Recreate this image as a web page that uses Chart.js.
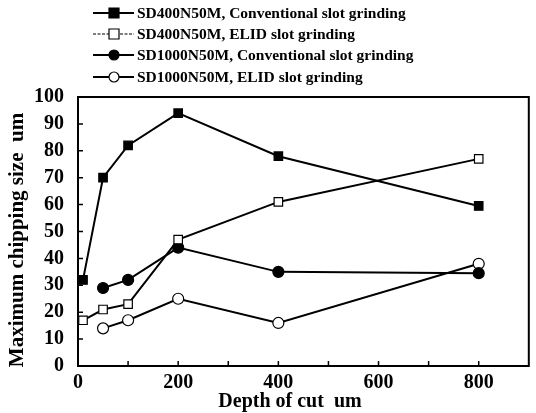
<!DOCTYPE html>
<html>
<head>
<meta charset="utf-8">
<script src="https://cdn.jsdelivr.net/npm/chart.js@4.4.1/dist/chart.umd.min.js"></script>
<style>
  html, body { margin: 0; padding: 0; background: #fff; }
  #wrap { width: 536px; height: 413px; }
</style>
</head>
<body>
<div id="wrap"><canvas id="grafico" width="536" height="413"></canvas></div>
<script>
// dados
const depth = [10, 50, 100, 200, 400, 800];
const sd400Conv = [32, 70, 82, 94, 78, 59.5];
const sd400Elid = [17, 21, 23, 47, 61, 77];
const sd1000Conv = [null, 29, 32, 44, 35, 34.5];
const sd1000Elid = [null, 14, 17, 25, 16, 38];
const seriesNames = [
    'SD400N50M, Conventional slot grinding',
    'SD400N50M, ELID slot grinding',
    'SD1000N50M, Conventional slot grinding',
    'SD1000N50M, ELID slot grinding'
];
const xTickLabels = [0, 200, 400, 600, 800];
const yTickLabels = [0, 10, 20, 30, 40, 50, 60, 70, 80, 90, 100];
const xTitulo = 'Depth of cut  um';
const yTitulo = 'Maximum chipping size  um';

const FONTE = '"Liberation Serif", "DejaVu Serif", serif';

function pontos(valores) {
    return depth.map((d, i) => ({ x: d, y: valores[i] })).filter(p => p.y !== null);
}

function serie(label, valores, estilo, cheio) {
    return {
        label: label,
        data: pontos(valores),
        borderColor: '#000',
        backgroundColor: cheio ? '#000' : '#fff',
        borderWidth: 2,
        pointStyle: estilo,
        pointRadius: estilo === 'rect' ? 6 : 5.5,
        pointBorderWidth: 1.2,
        pointBorderColor: '#000',
        pointBackgroundColor: cheio ? '#000' : '#fff',
        tension: 0
    };
}

// moldura, ticks para dentro, títulos e legenda desenhados à mão
const molduraPlugin = {
    id: 'moldura',
    afterDraw(chart) {
        const ctx = chart.ctx;
        const a = chart.chartArea;
        const xs = chart.scales.x, ys = chart.scales.y;
        ctx.save();
        ctx.strokeStyle = '#000';
        ctx.lineWidth = 2;
        ctx.strokeRect(a.left, a.top, a.right - a.left, a.bottom - a.top);
        ctx.lineWidth = 1.5;
        ctx.beginPath();
        for (let v = 100; v <= 800; v += 100) {
            const px = xs.getPixelForValue(v);
            ctx.moveTo(px, a.bottom);
            ctx.lineTo(px, a.bottom - 5);
        }
        for (let v = 10; v < 100; v += 10) {
            const py = ys.getPixelForValue(v);
            ctx.moveTo(a.left, py);
            ctx.lineTo(a.left + 5, py);
        }
        ctx.stroke();

        // títulos dos eixos
        ctx.fillStyle = '#000';
        ctx.textAlign = 'center';
        ctx.textBaseline = 'middle';
        ctx.font = 'bold 20px ' + FONTE;
        ctx.fillText(xTitulo, 290, 402);
        ctx.save();
        ctx.translate(18, 240);
        ctx.rotate(-Math.PI / 2);
        ctx.font = 'bold 21px ' + FONTE;
        ctx.fillText(yTitulo, 0, 0);
        ctx.restore();

        // legenda
        const linhasY = [13, 34, 55, 77];
        chart.data.datasets.forEach((ds, i) => {
            const y = linhasY[i];
            ctx.strokeStyle = '#000';
            ctx.lineWidth = i === 1 ? 1.2 : 2;
            ctx.setLineDash(i === 1 ? [3, 1.5] : []);
            ctx.beginPath();
            ctx.moveTo(93, y);
            ctx.lineTo(134, y);
            ctx.stroke();
            ctx.setLineDash([]);
            ctx.fillStyle = ds.pointBackgroundColor;
            ctx.lineWidth = 1.2;
            ctx.beginPath();
            if (ds.pointStyle === 'rect') {
                ctx.rect(109, y - 5, 10, 10);
            } else {
                ctx.arc(114, y, 5, 0, Math.PI * 2);
            }
            ctx.fill();
            ctx.stroke();
            ctx.fillStyle = '#000';
            ctx.font = 'bold 15.5px ' + FONTE;
            ctx.textBaseline = 'middle';
            ctx.textAlign = 'left';
            ctx.fillText(ds.label, 137, y + 1);
        });
        ctx.restore();
    }
};

const ctx = document.getElementById('grafico').getContext('2d');
const meuGrafico = new Chart(ctx, {
    type: 'line',
    data: {
        datasets: [
            serie(seriesNames[0], sd400Conv, 'rect', true),
            serie(seriesNames[1], sd400Elid, 'rect', false),
            serie(seriesNames[2], sd1000Conv, 'circle', true),
            serie(seriesNames[3], sd1000Elid, 'circle', false)
        ]
    },
    options: {
        responsive: false,
        animation: false,
        layout: { padding: { top: 97, right: 4, left: 0, bottom: 0 } },
        plugins: { legend: { display: false }, tooltip: { enabled: false } },
        scales: {
            x: {
                type: 'linear',
                min: 0,
                max: 900,
                grid: { display: false },
                border: { display: false },
                ticks: {
                    stepSize: 100,
                    autoSkip: false,
                    maxRotation: 0,
                    padding: -3,
                    color: '#000',
                    font: { family: FONTE, size: 20, weight: 'bold' },
                    callback: v => xTickLabels.includes(v) ? String(v) : ''
                },
                afterFit(scale) { scale.height = 47; }
            },
            y: {
                min: 0,
                max: 100,
                grid: { display: false },
                border: { display: false },
                ticks: {
                    stepSize: 10,
                    autoSkip: false,
                    padding: 6,
                    color: '#000',
                    font: { family: FONTE, size: 20, weight: 'bold' },
                    callback: v => yTickLabels.includes(v) ? String(v) : ''
                },
                afterFit(scale) { scale.width = 78; }
            }
        }
    },
    plugins: [molduraPlugin]
});
</script>
</body>
</html>
